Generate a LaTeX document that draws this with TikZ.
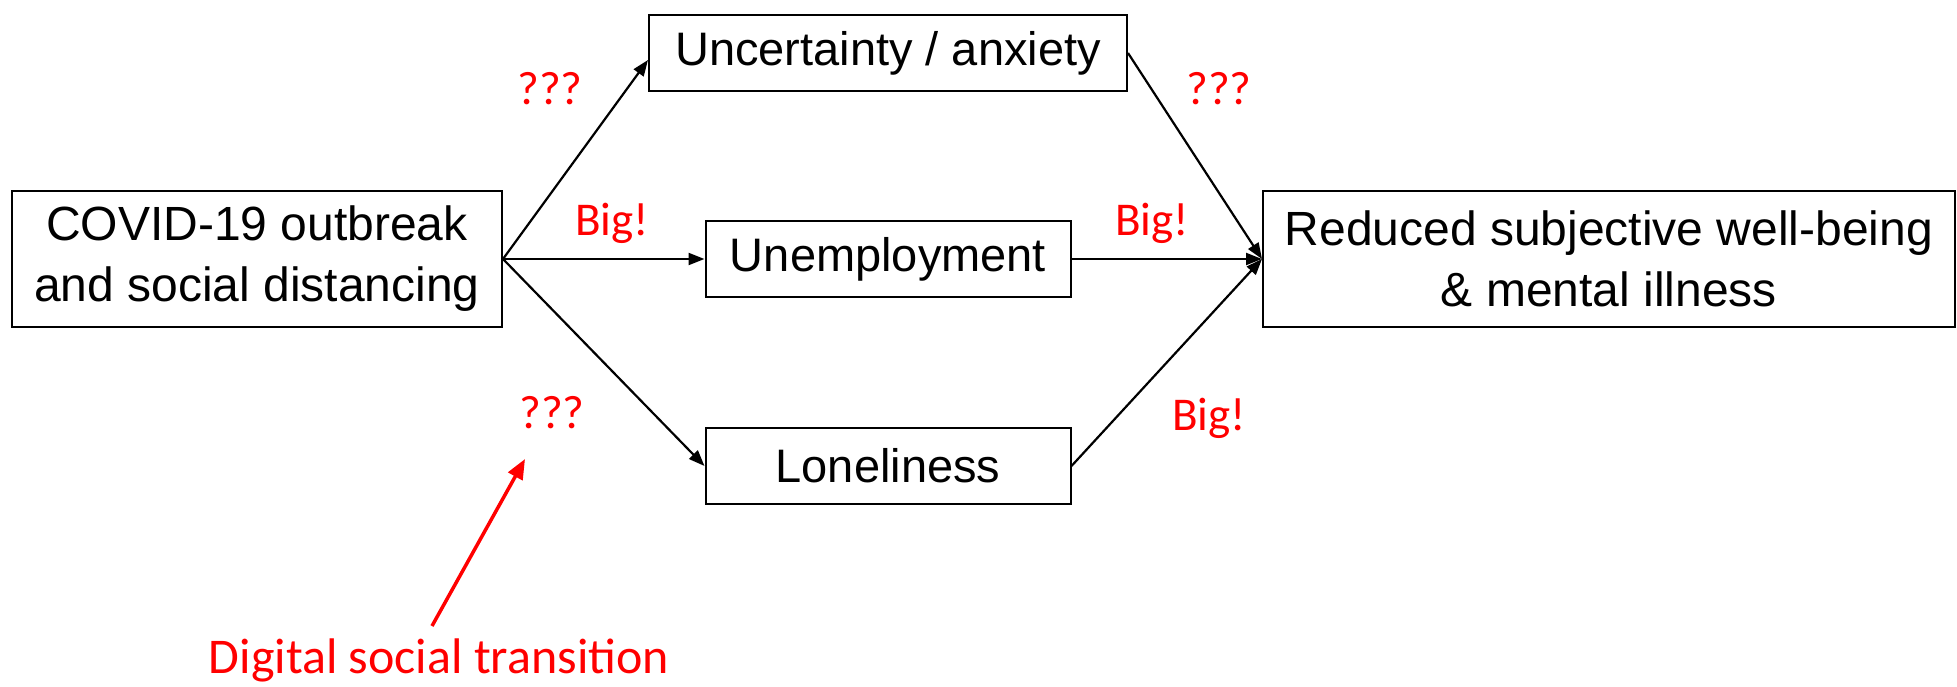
\documentclass[tikz,border=0pt]{standalone}
\usepackage{fontspec}
\setmainfont{Liberation Sans}
\newfontfamily\calibri{Carlito}
\usetikzlibrary{arrows.meta}
\begin{document}
\begin{tikzpicture}[x=1pt,y=-1pt,
  box/.style={draw,line width=2pt,inner sep=0pt,align=center,font=\fontsize{48}{61}\selectfont},
  smallbox/.style={box,font=\fontsize{47}{58}\selectfont},
  conn/.style={line width=2.2pt,-{Triangle[length=16pt,width=12pt]}},
  redarrow/.style={draw=red,line width=3.5pt,-{Triangle[length=20pt,width=16pt]}},
  lab/.style={text=red,font=\calibri\fontsize{47}{52}\selectfont,inner sep=0pt,anchor=base},
]
\useasboundingbox (0,0) rectangle (1957,687);
\node[box,minimum width=490,minimum height=136] (C) at (257,259) {COVID-19 outbreak\\and social distancing};
\node[smallbox,minimum width=478,minimum height=76] (U) at (888,53) {Uncertainty / anxiety};
\node[smallbox,minimum width=365,minimum height=76] (E) at (888,259) {Unemployment};
\node[smallbox,minimum width=365,minimum height=76] (L) at (888,466) {Loneliness};
\node[box,minimum width=692,minimum height=136] (R) at (1609,259) {Reduced subjective well-being\\\& mental illness};

\draw[conn] (C.east) -- ([yshift=-7pt]U.west);
\draw[conn] (C.east) -- (E.west);
\draw[conn] (C.east) -- (L.west);
\draw[conn] (U.east) -- (R.west);
\draw[conn] (E.east) -- (R.west);
\draw[conn] (L.east) -- (R.west);

\node[lab] (q1) at (550,105) {???};
\node[lab] (b1) at (612,236) {Big!};
\node[lab] (q2) at (552,428) {???};
\node[lab] (q3) at (1219,105) {???};
\node[lab] (b2) at (1152,236) {Big!};
\node[lab] (b3) at (1209,430) {Big!};
\node[lab,font=\calibri\fontsize{50}{55}\selectfont] (D) at (439,673) {Digital social transition};

\coordinate (rs) at (432,626);
\coordinate (re) at (525,459);
\draw[redarrow] (rs) -- (re);
\end{tikzpicture}
\end{document}
